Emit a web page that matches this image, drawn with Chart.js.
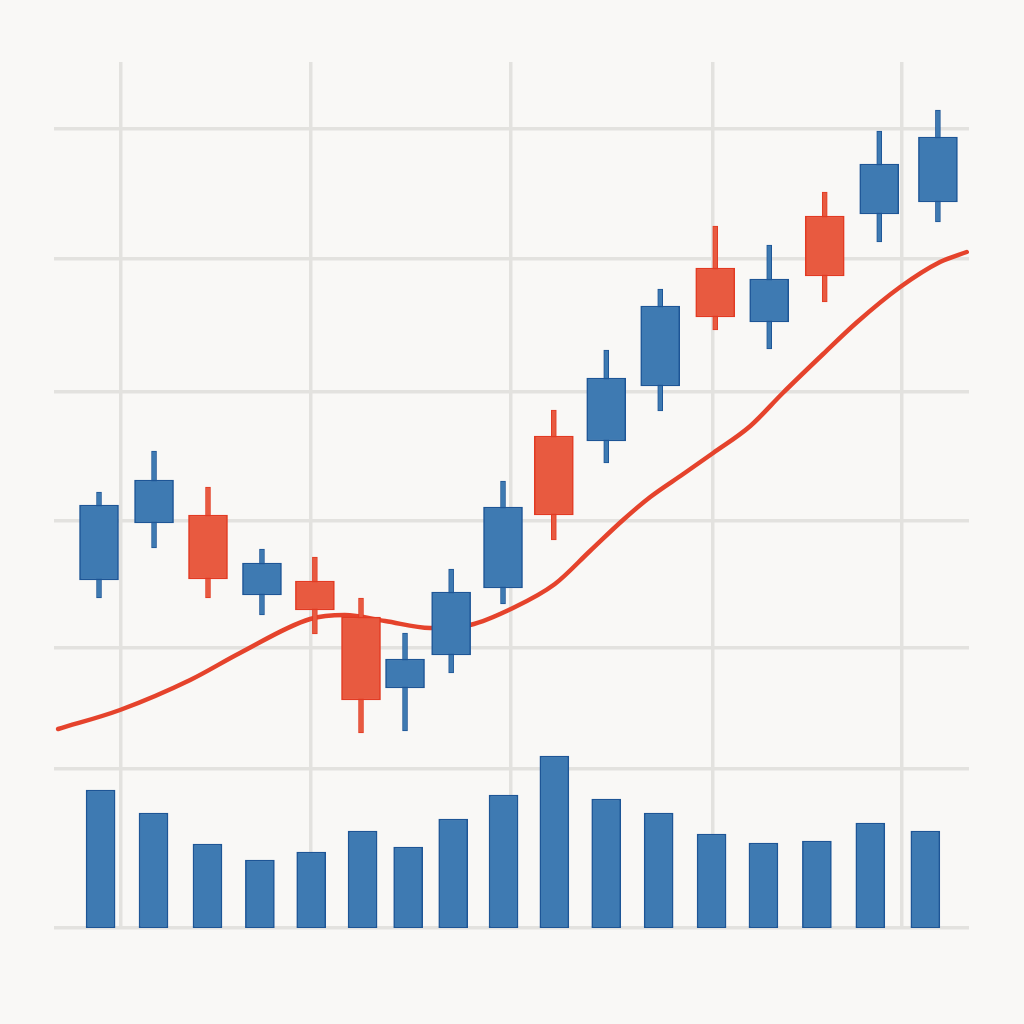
<!DOCTYPE html>
<html>
<head>
<meta charset="utf-8">
<script src="https://cdn.jsdelivr.net/npm/chart.js@4.4.0/dist/chart.umd.min.js"></script>
<style>
  html, body { margin: 0; padding: 0; background: #f9f8f6; }
  #wrap { width: 1024px; height: 1024px; }
</style>
</head>
<body>
<div id="wrap"><canvas id="myChart" width="1024" height="1024"></canvas></div>
<script>
// sessions (x position of each candle)
const candleX = [1.00, 2.05, 3.08, 4.11, 5.12, 6.00, 6.84, 7.72, 8.71, 9.68, 10.68, 11.71, 12.76, 13.79, 14.85, 15.89, 17.01];
const openP  = [34.8, 40.5, 41.3, 33.3, 34.7, 31.1, 24.0, 27.3, 34.0, 49.2, 48.7, 54.2, 66.0, 60.6, 71.2, 71.4, 72.6];
const closeP = [42.3, 44.8, 34.9, 36.5, 31.8, 22.8, 26.9, 33.6, 42.1, 41.3, 55.0, 62.2, 61.1, 64.9, 65.2, 76.4, 79.1];
const highP  = [43.6, 47.7, 44.1, 37.9, 37.1, 33.0, 29.5, 35.9, 44.7, 51.8, 57.8, 63.9, 70.2, 68.3, 73.6, 79.7, 81.8];
const lowP   = [33.0, 38.0, 33.0, 31.3, 29.4, 19.5, 19.7, 25.5, 32.4, 38.8, 46.5, 51.7, 59.8, 57.9, 62.6, 68.6, 70.6];

// volume bars
const volX = [1.03, 2.04, 3.07, 4.07, 5.05, 6.03, 6.90, 7.76, 8.72, 9.69, 10.68, 11.68, 12.69, 13.68, 14.70, 15.72, 16.77];
const volume = [1380, 1150, 840, 680, 760, 970, 810, 1090, 1330, 1720, 1290, 1150, 940, 850, 870, 1050, 970];

// moving average line
const maX = [0.22, 1.40, 2.74, 3.69, 5.03, 5.69, 6.46, 7.32, 8.08, 8.90, 9.70, 10.37, 11.00, 11.52, 12.15, 12.72, 13.43, 14.05, 14.82, 15.47, 16.29, 17.05, 17.56];
const maY = [19.9, 21.8, 24.8, 27.5, 30.9, 31.3, 30.7, 30.0, 30.3, 32.0, 34.4, 37.7, 40.8, 43.1, 45.4, 47.5, 50.2, 53.5, 57.4, 60.6, 64.1, 66.6, 67.6];

// grid lines
const gridX = [1.41, 5.05, 8.86, 12.72, 16.32];
const gridPrice = [79.9, 66.9, 53.65, 40.75, 28.0, 15.9, 0];

var blue = '#3e7ab2', blueEdge = '#1d5596';
var red = '#e85a40', redEdge = '#e23a22';
var gridColor = '#e3e2df';

var up = openP.map(function(o, i) { return closeP[i] >= o; });
var fillCol = up.map(function(u) { return u ? blue : red; });
var edgeCol = up.map(function(u) { return u ? blueEdge : redEdge; });

var bodies = candleX.map(function(x, i) { return { x: x, y: [openP[i], closeP[i]] }; });
var wicks = candleX.map(function(x, i) { return { x: x, y: [lowP[i], highP[i]] }; });
var vols = volX.map(function(x, i) { return { x: x, y: volume[i] }; });
var ma = maX.map(function(x, i) { return { x: x, y: maY[i] }; });

var myChart = new Chart(document.getElementById('myChart'), {
  type: 'bar',
  data: {
    datasets: [{
      type: 'line',
      data: ma,
      yAxisID: 'y',
      borderColor: '#e5432c',
      borderWidth: 4.5,
      borderCapStyle: 'round',
      pointRadius: 0,
      cubicInterpolationMode: 'monotone',
      fill: false,
      order: 5
    }, {
      data: wicks,
      yAxisID: 'y',
      backgroundColor: fillCol,
      borderColor: edgeCol,
      borderWidth: 1,
      borderSkipped: false,
      barThickness: 5,
      grouped: false,
      order: 3
    }, {
      data: bodies,
      yAxisID: 'y',
      backgroundColor: fillCol,
      borderColor: edgeCol,
      borderWidth: 1.5,
      borderSkipped: false,
      barThickness: 39,
      grouped: false,
      order: 2
    }, {
      data: vols,
      yAxisID: 'y2',
      backgroundColor: blue,
      borderColor: blueEdge,
      borderWidth: 1.5,
      borderSkipped: false,
      barThickness: 29,
      grouped: false,
      order: 2
    }]
  },
  options: {
    responsive: false,
    devicePixelRatio: 1,
    animation: false,
    layout: { padding: { left: 54, top: 62, right: 55, bottom: 96 } },
    plugins: { legend: { display: false }, tooltip: { enabled: false } },
    scales: {
      x: {
        type: 'linear',
        min: 0.141,
        max: 17.603,
        offset: false,
        ticks: { display: false },
        border: { display: false },
        grid: { color: gridColor, lineWidth: 3.5, drawTicks: false, offset: false },
        afterBuildTicks: function(axis) { axis.ticks = gridX.map(function(v) { return { value: v }; }); }
      },
      y: {
        min: 0,
        max: 86.6,
        ticks: { display: false },
        border: { display: false },
        grid: { color: gridColor, lineWidth: 3.5, drawTicks: false },
        afterBuildTicks: function(axis) { axis.ticks = gridPrice.map(function(v) { return { value: v }; }); }
      },
      y2: {
        display: false,
        min: 0,
        max: 8660
      }
    }
  }
});
</script>
</body>
</html>
